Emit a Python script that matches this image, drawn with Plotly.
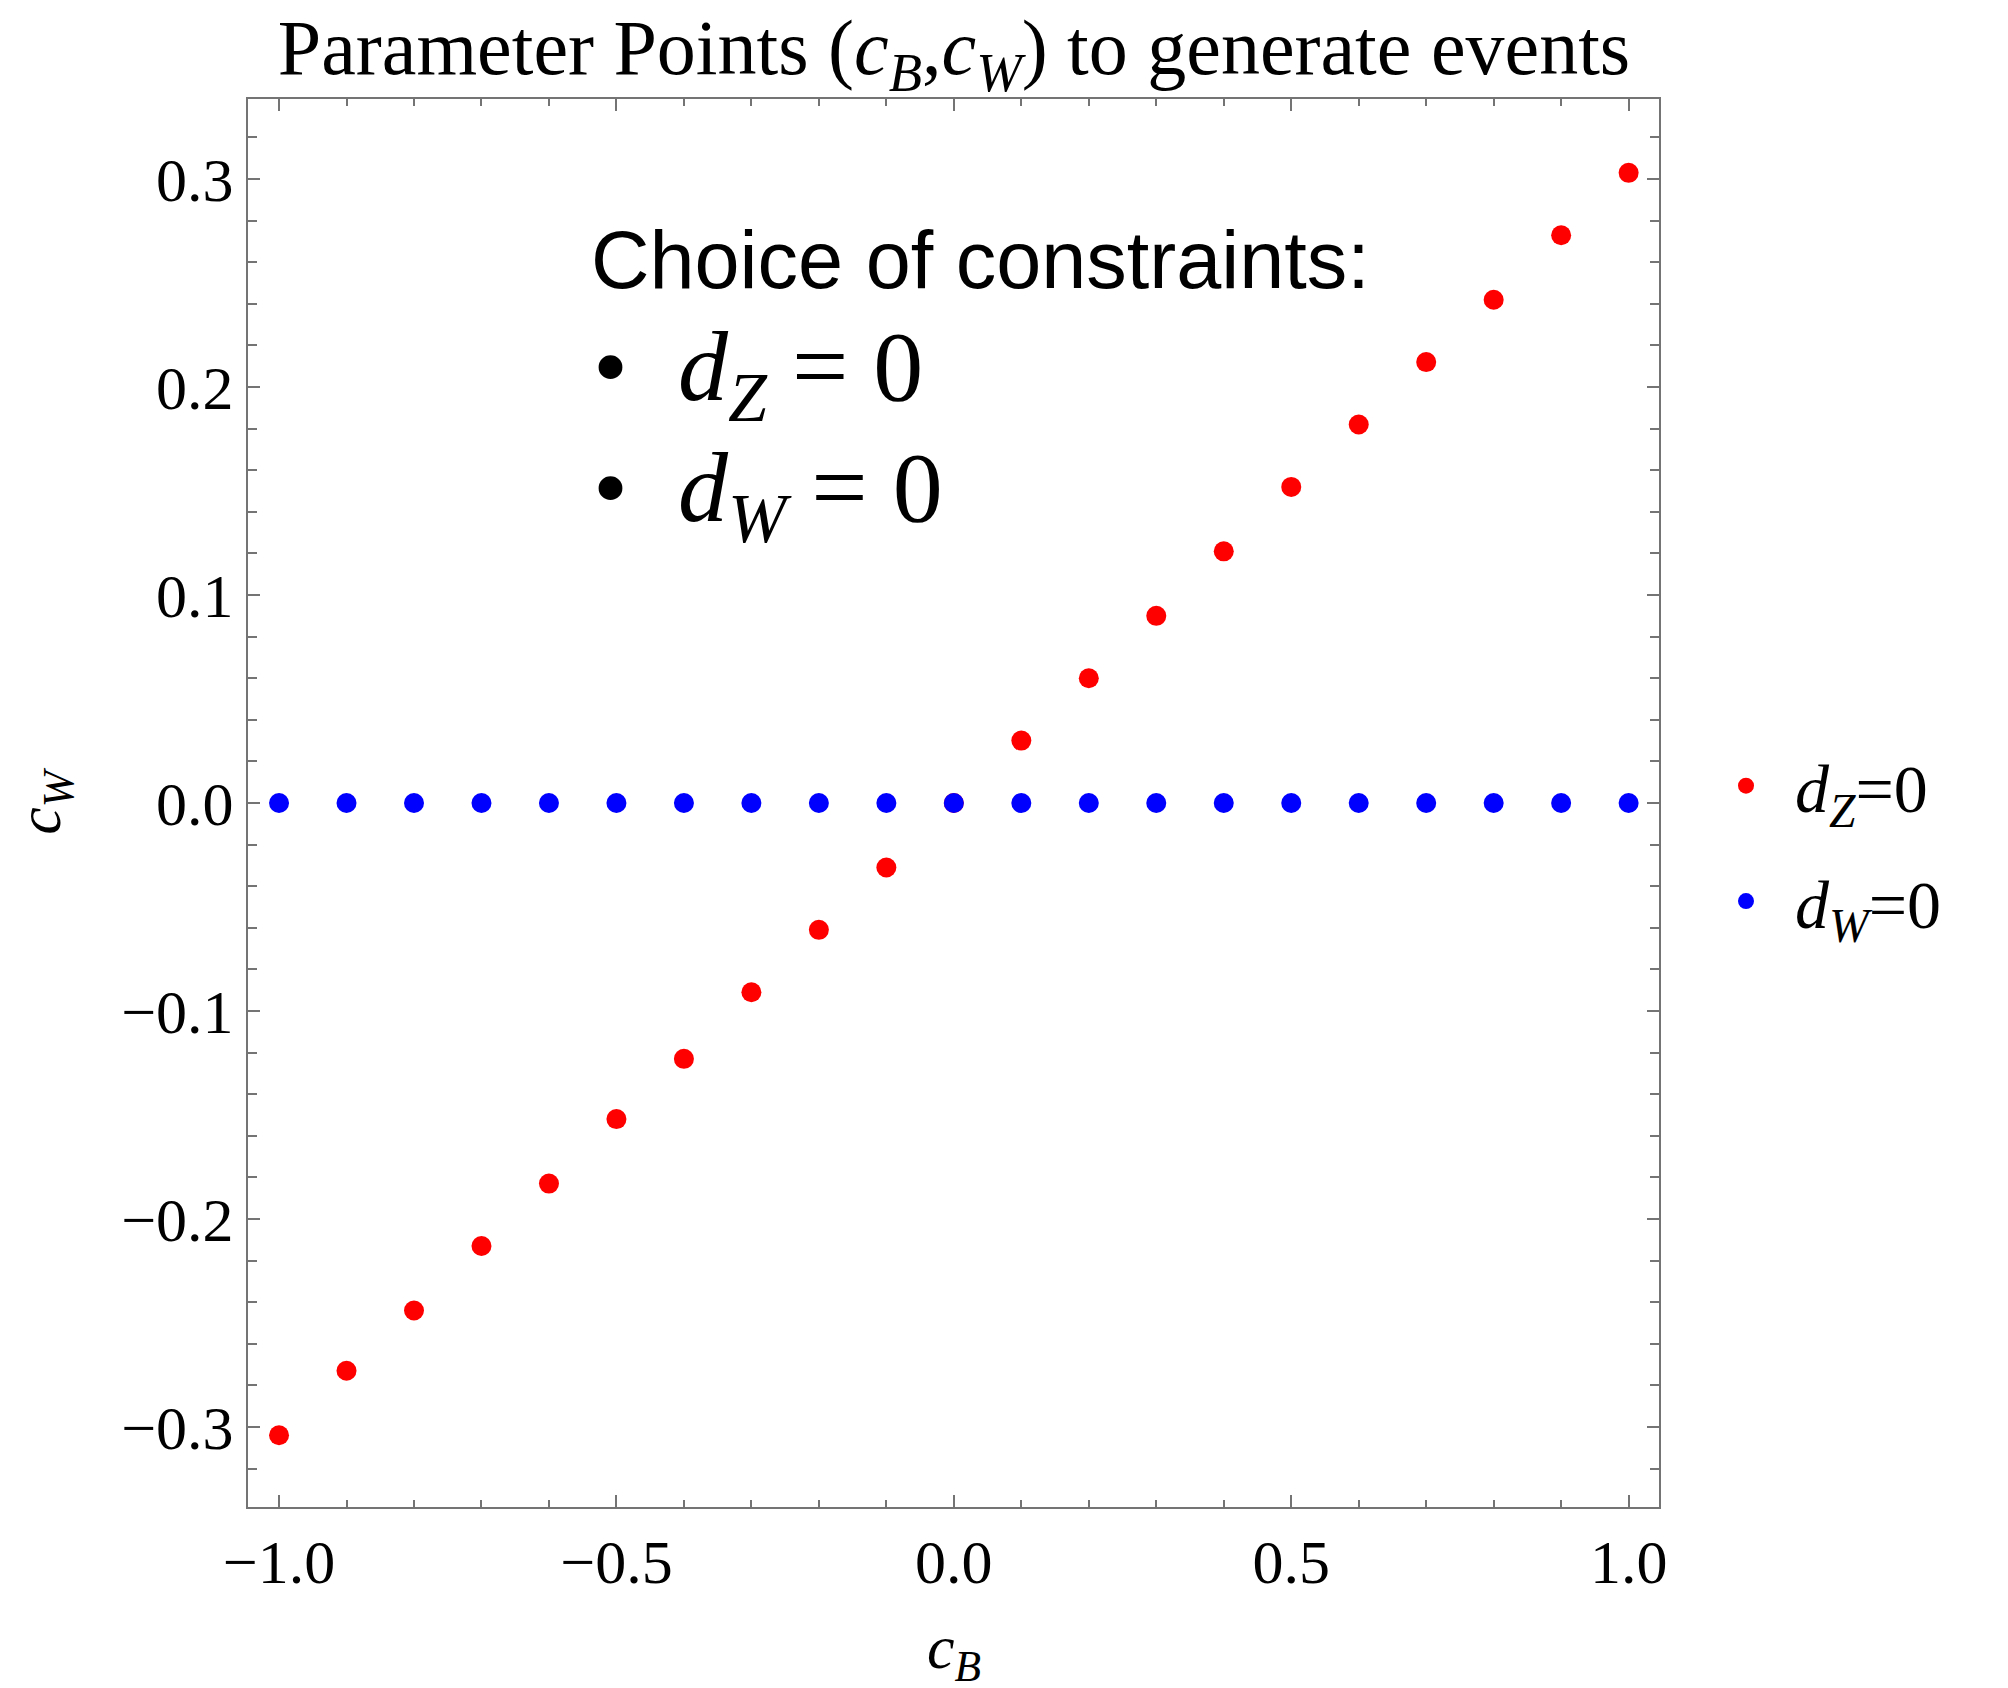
import plotly.graph_objects as go

# ---- data ----
cB = [-1.0, -0.9, -0.8, -0.7, -0.6, -0.5, -0.4, -0.3, -0.2, -0.1, 0.0,
      0.1, 0.2, 0.3, 0.4, 0.5, 0.6, 0.7, 0.8, 0.9, 1.0]
cW_dZ0 = [-0.304, -0.273, -0.244, -0.213, -0.183, -0.152, -0.123, -0.091, -0.061, -0.031, 0.0,
          0.030, 0.060, 0.090, 0.121, 0.152, 0.182, 0.212, 0.242, 0.273, 0.303]
cW_dW0 = [0.0] * 21

x_tickvals = [-1.0, -0.5, 0.0, 0.5, 1.0]
x_ticktext = ["\u22121.0", "\u22120.5", "0.0", "0.5", "1.0"]
y_tickvals = [-0.3, -0.2, -0.1, 0.0, 0.1, 0.2, 0.3]
y_ticktext = ["\u22120.3", "\u22120.2", "\u22120.1", "0.0", "0.1", "0.2", "0.3"]

series_names = ["<i>d</i><sub><i>Z</i></sub>=0", "<i>d</i><sub><i>W</i></sub>=0"]
series_colors = ["#ff0000", "#0000ff"]

# ---- layout constants ----
W, H = 2008, 1688
L, R, T, B = 248, 349, 99, 181
PW, PH = W - L - R, H - T - B
SERIF = "Liberation Serif, Times New Roman, serif"
SANS = "Liberation Sans, Arial, sans-serif"
GRAY = "#747474"


def px(x):
    return (x - L) / PW


def py(y):
    return (H - B - y) / PH


fig = go.Figure()
for ys, name, col, grp in [(cW_dZ0, series_names[0], series_colors[0], "a"),
                           (cW_dW0, series_names[1], series_colors[1], "b")]:
    fig.add_trace(go.Scatter(
        x=cB, y=ys, mode="markers", name=name, legendgroup=grp,
        marker=dict(size=20, color=col, line=dict(width=0)),
    ))

axis_common = dict(
    ticks="inside", tickwidth=2, tickcolor=GRAY, ticklen=12,
    showline=True, linecolor=GRAY, linewidth=2, mirror="allticks",
    showgrid=False, zeroline=False, automargin=False,
    tickfont=dict(family=SERIF, size=62, color="black"),
    tickmode="array",
)

fig.update_xaxes(
    **axis_common,
    range=[-1.046, 1.045],
    tickvals=x_tickvals, ticktext=x_ticktext,
    minor=dict(dtick=0.1, tick0=0, ticks="inside", ticklen=7, tickwidth=2,
               tickcolor=GRAY, showgrid=False),
)
fig.update_yaxes(
    **axis_common,
    range=[-0.3385, 0.3385],
    tickvals=y_tickvals, ticktext=y_ticktext,
    minor=dict(dtick=0.02, tick0=0, ticks="inside", ticklen=9, tickwidth=2,
               tickcolor=GRAY, showgrid=False),
    title=dict(text="<i>c</i><sub><i>W</i></sub>", font=dict(family=SERIF, size=62, color="black"),
               standoff=40),
)

# x-axis title placed as an annotation so it can sit near the page's bottom edge
fig.add_annotation(
    xref="paper", yref="paper", x=px(954), y=py(1651), xanchor="center", yanchor="middle",
    text="<i>c</i><sub><i>B</i></sub>", showarrow=False,
    font=dict(family=SERIF, size=62, color="black"),
)

fig.add_annotation(
    xref="paper", yref="paper", x=px(589), y=py(260), xanchor="left", yanchor="middle",
    text="Choice of constraints:", showarrow=False,
    font=dict(family=SANS, size=81, color="black"),
)
fig.add_annotation(
    xref="paper", yref="paper", x=px(591), y=py(373), xanchor="left", yanchor="middle",
    text="\u2022\u00a0\u00a0<i>d</i><sub><i>Z</i></sub>\u00a0=\u00a00", showarrow=False,
    font=dict(family=SERIF, size=100, color="black"),
)
fig.add_annotation(
    xref="paper", yref="paper", x=px(591), y=py(494), xanchor="left", yanchor="middle",
    text="\u2022\u00a0\u00a0<i>d</i><sub><i>W</i></sub>\u00a0=\u00a00", showarrow=False,
    font=dict(family=SERIF, size=100, color="black"),
)

fig.update_layout(
    width=W, height=H, autosize=False,
    margin=dict(l=L, r=R, t=T, b=B, pad=0, autoexpand=False),
    paper_bgcolor="white", plot_bgcolor="white",
    title=dict(
        text="Parameter Points (<i>c</i><sub><i>B</i></sub>,<i>c</i><sub><i>W</i></sub>) to generate events",
        x=px(954), xref="paper", xanchor="center", y=1 - 47 / H, yanchor="middle",
        font=dict(family=SERIF, size=78, color="black"),
    ),
    legend=dict(
        x=px(1697), y=py(735), xanchor="left", yanchor="top",
        font=dict(family=SERIF, size=68, color="black"),
        traceorder="grouped", tracegroupgap=24, itemwidth=88,
        bgcolor="rgba(0,0,0,0)",
    ),
    showlegend=True,
)

fig.write_html("out.html")
